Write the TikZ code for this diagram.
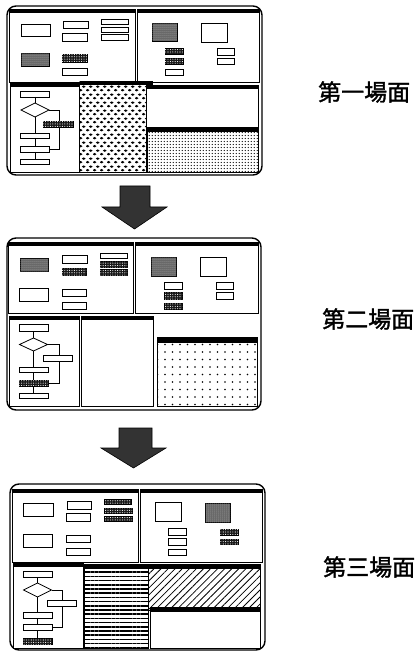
\documentclass[tikz,border=0pt]{standalone}
\usepackage{fontspec}
\newfontfamily\jp[FakeBold=1.5]{Noto Sans CJK JP}
\usetikzlibrary{patterns,patterns.meta,shapes.geometric}
\pgfdeclarepatternformonly{bigdots}{\pgfpoint{0pt}{0pt}}{\pgfpoint{6.6pt}{8pt}}{\pgfpoint{6.6pt}{8pt}}{%
  \pgfpathellipse{\pgfpoint{1.65pt}{2pt}}{\pgfpoint{2pt}{0pt}}{\pgfpoint{0pt}{1.4pt}}%
  \pgfpathellipse{\pgfpoint{4.95pt}{6pt}}{\pgfpoint{2pt}{0pt}}{\pgfpoint{0pt}{1.4pt}}%
  \pgfusepath{fill}}
\pgfdeclarepatternformonly{finedots}{\pgfpoint{0pt}{0pt}}{\pgfpoint{2.8pt}{3.4pt}}{\pgfpoint{2.8pt}{3.4pt}}{%
  \pgfpathcircle{\pgfpoint{1.4pt}{1.7pt}}{0.7pt}%
  \pgfusepath{fill}}
\tikzset{
  frame/.style={draw, line width=1.4pt, rounded corners=9pt},
  win/.style={draw, line width=0.8pt, fill=white},
  bar/.style={fill=black},
  btn/.style={draw, line width=0.8pt, fill=white},
  shade/.style={draw, line width=0.8pt, fill=black!62, postaction={pattern={Dots[distance=2pt,radius=0.5pt]}, pattern color=white!80!black}},
  dbtn/.style={draw, line width=0.8pt, fill=black!90, postaction={pattern={Dots[distance=2.4pt,radius=0.55pt]}, pattern color=white}},
  fc/.style={draw, line width=0.8pt, fill=white, inner sep=0pt, outer sep=0pt, minimum width=29pt, minimum height=6pt},
  fcd/.style={fc, fill=black!90, postaction={pattern={Dots[distance=2.4pt,radius=0.55pt]}, pattern color=white}},
  dia/.style={draw, diamond, line width=0.8pt, fill=white, inner sep=0pt, outer sep=0pt, minimum width=28pt, minimum height=14pt},
  conn/.style={line width=0.8pt},
  bigarrow/.style={fill=black!80, draw=black, line width=0.6pt},
  lab/.style={font=\jp\fontsize{23pt}{23pt}\selectfont, inner sep=0pt, anchor=west},
}
\begin{document}
\begin{tikzpicture}[x=1pt,y=-1pt]
\useasboundingbox (0,0) rectangle (417,652);

% ================= Scene 1 =================
\draw[frame] (7,6) rectangle (262,175);
\draw[win] (9,9) rectangle (135,82); \fill[bar] (9,9) rectangle (135,13);
\draw[win] (137,9) rectangle (259,82); \fill[bar] (137,9) rectangle (259,13);
% top-left contents
\draw[btn] (21,24) rectangle (50,36);
\draw[btn] (63,21) rectangle (88,28);
\draw[btn] (62,33) rectangle (87,41);
\draw[btn] (101,19) rectangle (128,24);
\draw[btn] (101,27) rectangle (128,32);
\draw[btn] (101,34) rectangle (128,40);
\draw[shade] (21,53) rectangle (49,66);
\draw[dbtn] (62,54) rectangle (87,62);
\draw[btn] (62,68) rectangle (87,75);
% top-right contents
\draw[shade] (152,23) rectangle (177,41);
\draw[btn] (201,23) rectangle (227,42);
\draw[dbtn] (165,48) rectangle (183,54);
\draw[dbtn] (165,58) rectangle (183,64);
\draw[btn] (165,69) rectangle (183,75);
\draw[btn] (217,48) rectangle (234,55);
\draw[btn] (217,58) rectangle (234,64);
% bottom windows
\draw[win] (146,85) rectangle (258,130); \fill[bar] (146,85) rectangle (258,89);
\draw[win, postaction={pattern=finedots}] (147,130) rectangle (258,172); \fill[bar] (147,127) rectangle (258,132);
\draw[win, postaction={pattern=bigdots}] (79,82) rectangle (146,172); \fill[bar] (80,81) rectangle (153,85);
\draw[win] (10,83) rectangle (79,172); \fill[bar] (10,83) rectangle (79,87);
% flowchart 1
\node[fc] (a1) at (35,94) {};
\node[dia] (ad) at (35,110) {};
\node[fc, minimum height=5pt] (a2) at (35,135.5) {};
\node[fc] (a3) at (35,149) {};
\node[fc, minimum height=5pt] (a4) at (35,161.5) {};
\coordinate (ac) at (59,149);
\draw[conn] (a1) -- (ad); \draw[conn] (ad) -- (a2); \draw[conn] (a2) -- (a3); \draw[conn] (a3) -- (a4);
\draw[conn] (ad.east) -| (ac) -- (a3.east);
\node[fcd, minimum width=30pt] (as) at (58,124) {};

% arrow 1
\fill[bigarrow] (120,186) -- (150,186) -- (150,207) -- (167,207) -- (134.5,229) -- (102,207) -- (120,207) -- cycle;

% ================= Scene 2 =================
\draw[frame] (7,238) rectangle (261,410);
\draw[win] (8,242) rectangle (133,313); \fill[bar] (8,242) rectangle (133,246);
\draw[win] (135,242) rectangle (258,313); \fill[bar] (135,242) rectangle (258,246);
% top-left contents
\draw[shade] (20,258) rectangle (48,271);
\draw[btn] (62,255) rectangle (87,263);
\draw[dbtn] (62,268) rectangle (86,275);
\draw[btn] (100,253) rectangle (127,258);
\draw[dbtn] (100,261) rectangle (127,267);
\draw[dbtn] (100,269) rectangle (127,275);
\draw[btn] (19,288) rectangle (48,301);
\draw[btn] (62,289) rectangle (86,296);
\draw[btn] (62,302) rectangle (86,309);
% top-right contents
\draw[shade] (151,257) rectangle (176,276);
\draw[btn] (200,257) rectangle (226,276);
\draw[btn] (164,282) rectangle (182,289);
\draw[dbtn] (164,292) rectangle (182,299);
\draw[dbtn] (164,303) rectangle (182,309);
\draw[btn] (216,282) rectangle (233,289);
\draw[btn] (216,292) rectangle (233,299);
% bottom windows
\draw[win] (9,316) rectangle (79,406); \fill[bar] (9,316) rectangle (79,320);
\draw[win] (81,316) rectangle (153,406); \fill[bar] (81,316) rectangle (153,320);
\draw[win, postaction={pattern={Dots[distance=7.5pt,radius=0.8pt]}}] (157,337) rectangle (257,406); \fill[bar] (157,337) rectangle (257,343);
% flowchart 2
\node[fc, minimum height=7pt] (b1) at (33.5,327.5) {};
\node[dia, minimum height=13pt] (bd) at (33.5,344.5) {};
\node[fc, minimum height=5pt] (b2) at (33.5,369.5) {};
\node[fcd] (b3) at (33.5,383) {};
\node[fc, minimum height=5pt] (b4) at (33.5,395.5) {};
\coordinate (bc) at (59,383);
\draw[conn] (b1) -- (bd); \draw[conn] (bd) -- (b2); \draw[conn] (b2) -- (b3); \draw[conn] (b3) -- (b4);
\draw[conn] (bd.east) -| (bc) -- (b3.east);
\node[fc] (bs) at (57.5,358) {};

% arrow 2
\fill[bigarrow] (119,428) -- (152,428) -- (152,448) -- (166,448) -- (133.5,468) -- (101,448) -- (119,448) -- cycle;

% ================= Scene 3 =================
\draw[frame] (10,484) rectangle (265,650);
\draw[win] (12,489) rectangle (138,562); \fill[bar] (12,489) rectangle (138,493);
\draw[win] (140,489) rectangle (262,562); \fill[bar] (140,489) rectangle (262,493);
% top-left contents
\draw[btn] (23,503) rectangle (53,516);
\draw[btn] (67,501) rectangle (91,509);
\draw[btn] (66,513) rectangle (90,521);
\draw[dbtn] (104,499) rectangle (131,504);
\draw[dbtn] (104,508) rectangle (132,513);
\draw[dbtn] (104,516) rectangle (132,521);
\draw[btn] (23,534) rectangle (52,547);
\draw[btn] (66,535) rectangle (90,542);
\draw[btn] (66,548) rectangle (90,555);
% top-right contents
\draw[btn] (155,502) rectangle (181,521);
\draw[shade] (205,503) rectangle (230,522);
\draw[btn] (168,528) rectangle (186,535);
\draw[btn] (168,538) rectangle (186,545);
\draw[btn] (168,549) rectangle (186,555);
\draw[dbtn] (220,529) rectangle (238,535);
\draw[dbtn] (220,539) rectangle (238,544);
% bottom windows
\draw[win] (13,563) rectangle (83,648); \fill[bar] (13,563) rectangle (83,567);
\draw[win, postaction={pattern={Lines[angle=0,distance=4.2pt,line width=1.5pt]}}] (84,565) rectangle (148,648); \fill[bar] (84,564) rectangle (148,569);
\draw[win, postaction={pattern={Lines[angle=45,distance=5pt,line width=0.8pt]}}] (148,564) rectangle (260,610); \fill[bar] (148,564) rectangle (260,569);
\draw[win] (150,607) rectangle (260,648); \fill[bar] (150,607) rectangle (260,612);
% flowchart 3
\node[fc] (c1) at (37.5,574) {};
\node[dia] (cd) at (37.5,590) {};
\node[fc] (c2) at (37.5,615) {};
\node[fc] (c3) at (37.5,627) {};
\node[fcd] (c4) at (37.5,641) {};
\coordinate (cc) at (62,627);
\draw[conn] (c1) -- (cd); \draw[conn] (cd) -- (c2); \draw[conn] (c2) -- (c3); \draw[conn] (c3) -- (c4);
\draw[conn] (cd.east) -| (cc) -- (c3.east);
\node[fc] (cs) at (61.5,603) {};

% labels
\node[lab] (l1) at (318,92) {第一場面};
\node[lab] (l2) at (322,319) {第二場面};
\node[lab] (l3) at (323,567) {第三場面};
\end{tikzpicture}
\end{document}
